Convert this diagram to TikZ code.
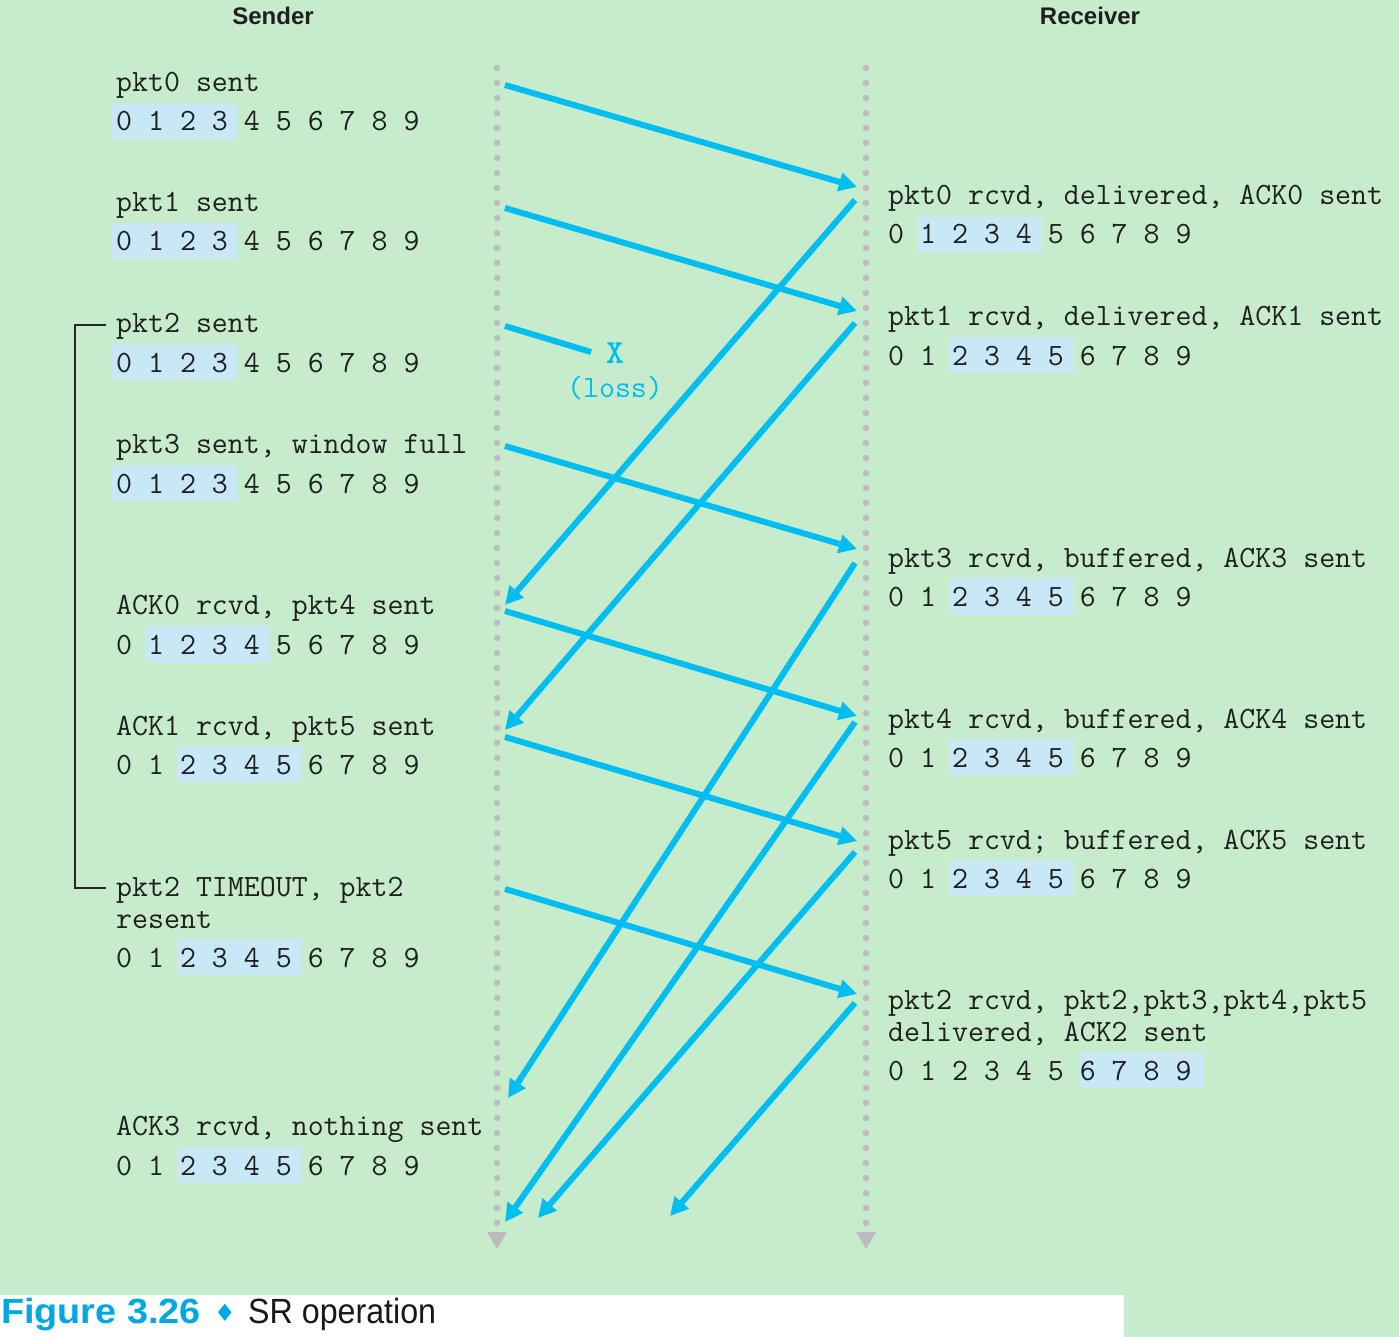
\documentclass[tikz,border=0pt]{standalone}
\usepackage{fontspec}
\setmainfont{Liberation Sans}
\newfontfamily\headf{Liberation Sans}
\newfontfamily\capf[FakeStretch=0.92]{Liberation Sans}
\newfontfamily\capbf[FakeStretch=1.08]{Liberation Sans}
\newfontfamily\symf{DejaVu Sans}
\usetikzlibrary{arrows.meta}
\definecolor{bggreen}{HTML}{C7ECCB}
\definecolor{winblue}{HTML}{C8E8F8}
\definecolor{pktcyan}{HTML}{00BEF2}
\definecolor{capcyan}{HTML}{00A8E6}
\definecolor{dotgray}{HTML}{BDBBC1}
\tikzset{
  mono/.style={font=\ttfamily\fontsize{31}{32}\selectfont, inner sep=0pt, anchor=base west, text=black!88},
  headtxt/.style={font=\headf\bfseries\fontsize{24}{28}\selectfont, inner sep=0pt, anchor=base, text=black!88},
  winbox/.style={fill=winblue},
  pktarrow/.style={draw=pktcyan, line width=6pt, -{Triangle[length=18pt,width=18pt]}},
  timeline/.style={draw=dotgray, line width=6.5pt, line cap=round, dash pattern=on 0pt off 15pt},
  tlhead/.style={fill=dotgray},
}
\newcommand{\winrow}[4]{%
  \fill[winbox] ({#2+#4*32.55-4},{#3-28}) rectangle ++(125,36);
  \node[mono] (#1) at (#2,#3) {0 1 2 3 4 5 6 7 8 9};
}
\begin{document}
\begin{tikzpicture}[x=1pt,y=-1pt]
\useasboundingbox (0,0) rectangle (1399,1337);
\fill[bggreen] (0,0) rectangle (1399,1337);
\fill[white] (0,1295) rectangle (1124,1337);

% headers
\node[headtxt] (sender) at (273,25) {Sender};
\node[headtxt] (receiver) at (1090,25) {Receiver};

% timelines
\coordinate (stop) at (497,68);
\coordinate (sbot) at (497,1226);
\coordinate (rtop) at (866,68);
\coordinate (rbot) at (866,1226);
\draw[timeline] (stop) -- (sbot);
\draw[timeline] (rtop) -- (rbot);
\fill[tlhead] (487,1232) -- (507,1232) -- (497,1249) -- cycle;
\fill[tlhead] (856,1232) -- (876,1232) -- (866,1249) -- cycle;

% sender side
\node[mono] (s0) at (116,92) {pkt0 sent};
\winrow{w0}{116}{131}{0}
\node[mono] (s1) at (116,212) {pkt1 sent};
\winrow{w1}{116}{251}{0}
\node[mono] (s2) at (116,333) {pkt2 sent};
\winrow{w2}{116}{372}{0}
\node[mono] (s3) at (116,453) {pkt3 sent, window full};
\winrow{w3}{116}{493}{0}
\node[mono] (s4) at (116,614) {ACK0 rcvd, pkt4 sent};
\winrow{w4}{116}{654}{1}
\node[mono] (s5) at (116,735) {ACK1 rcvd, pkt5 sent};
\winrow{w5}{116}{774}{2}
\node[mono] (s6) at (116,896) {pkt2 TIMEOUT, pkt2};
\node[mono] (s6b) at (116,928) {resent};
\winrow{w6}{116}{967}{2}
\node[mono] (s7) at (116,1135) {ACK3 rcvd, nothing sent};
\winrow{w7}{116}{1175}{2}

% timeout bracket
\coordinate (bt) at (106,325);
\coordinate (bb) at (106,888);
\draw[line width=2pt, black!85] (bt) -| (75,888) -- (bb);

% receiver side
\node[mono] (r0) at (888,205) {pkt0 rcvd, delivered, ACK0 sent};
\winrow{v0}{888}{244}{1}
\node[mono] (r1) at (888,326) {pkt1 rcvd, delivered, ACK1 sent};
\winrow{v1}{888}{365}{2}
\node[mono] (r3) at (888,567) {pkt3 rcvd, buffered, ACK3 sent};
\winrow{v3}{888}{606}{2}
\node[mono] (r4) at (888,728) {pkt4 rcvd, buffered, ACK4 sent};
\winrow{v4}{888}{767}{2}
\node[mono] (r5) at (888,849) {pkt5 rcvd; buffered, ACK5 sent};
\winrow{v5}{888}{888}{2}
\node[mono] (r2) at (888,1009) {pkt2 rcvd, pkt2,pkt3,pkt4,pkt5};
\node[mono] (r2b) at (888,1041) {delivered, ACK2 sent};
\winrow{v2}{888}{1080}{6}

% data packet endpoints
\coordinate (d0a) at (505,85);   \coordinate (d0b) at (857,187);
\coordinate (d1a) at (505,208);  \coordinate (d1b) at (857,311);
\coordinate (d2a) at (505,326);  \coordinate (d2b) at (591,352);
\coordinate (d3a) at (505,446);  \coordinate (d3b) at (857,549);
\coordinate (d4a) at (505,611);  \coordinate (d4b) at (857,716);
\coordinate (d5a) at (505,737);  \coordinate (d5b) at (857,841);
\coordinate (d6a) at (505,889);  \coordinate (d6b) at (857,994);
% ack endpoints
\coordinate (a0a) at (855,200);  \coordinate (a0b) at (505,605);
\coordinate (a1a) at (855,323);  \coordinate (a1b) at (505,730);
\coordinate (a3a) at (855,563);  \coordinate (a3b) at (508,1098);
\coordinate (a4a) at (855,722);  \coordinate (a4b) at (505,1222);
\coordinate (a5a) at (855,852);  \coordinate (a5b) at (538,1218);
\coordinate (a2a) at (855,1003); \coordinate (a2b) at (670,1216);

\draw[pktarrow] (d0a) -- (d0b);
\draw[pktarrow] (d1a) -- (d1b);
\draw[draw=pktcyan, line width=6pt] (d2a) -- (d2b);
\draw[pktarrow] (d3a) -- (d3b);
\draw[pktarrow] (d4a) -- (d4b);
\draw[pktarrow] (d5a) -- (d5b);
\draw[pktarrow] (d6a) -- (d6b);

\draw[pktarrow] (a0a) -- (a0b);
\draw[pktarrow] (a1a) -- (a1b);
\draw[pktarrow] (a3a) -- (a3b);
\draw[pktarrow] (a4a) -- (a4b);
\draw[pktarrow] (a5a) -- (a5b);
\draw[pktarrow] (a2a) -- (a2b);

% loss
\node[font=\ttfamily\bfseries\fontsize{34}{36}\selectfont, text=pktcyan, inner sep=0pt, anchor=base] (lossx) at (615,363) {X};
\node[font=\ttfamily\fontsize{31}{32}\selectfont, text=pktcyan, inner sep=0pt, anchor=base] (losst) at (615,397) {(loss)};

% caption
\node[font=\capbf\bfseries\fontsize{35}{40}\selectfont, text=capcyan, inner sep=0pt, anchor=base west] (capa) at (1,1323) {Figure 3.26};
\node[font=\symf\fontsize{24}{28}\selectfont, text=capcyan, inner sep=0pt, anchor=base] (capd) at (225,1321) {♦};
\node[font=\capf\fontsize{35}{40}\selectfont, text=black!90, inner sep=0pt, anchor=base west] (capb) at (248,1323) {SR operation};
\end{tikzpicture}
\end{document}
